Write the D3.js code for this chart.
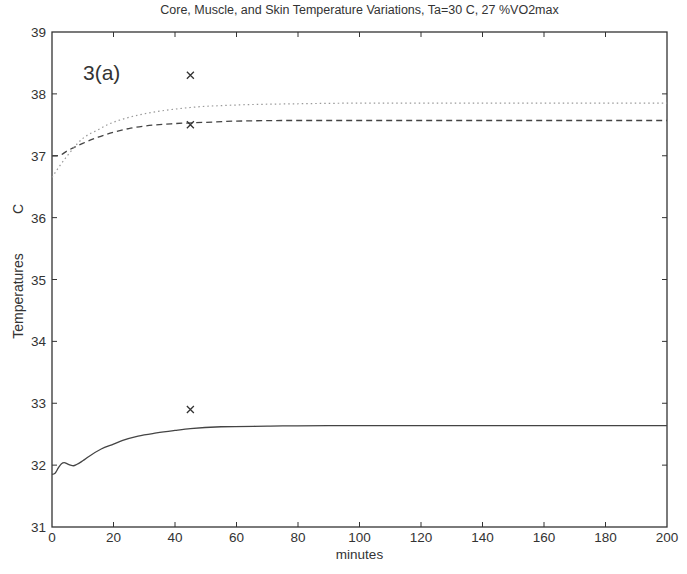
<!DOCTYPE html>
<html><head><meta charset="utf-8">
<script src="https://cdn.jsdelivr.net/npm/d3@7"></script>
<style>body{margin:0;background:#fff}svg{display:block}text{font-family:"Liberation Sans",Arial,sans-serif;fill:#333}</style>
</head><body><div id="chart"></div>
<script>
const title = "Core, Muscle, and Skin Temperature Variations, Ta=30 C, 27 %VO2max";
const xTicks = [0,20,40,60,80,100,120,140,160,180,200];
const yTicks = [31,32,33,34,35,36,37,38,39];
const coreT = [0,2,5,10,15,20,25,30,40,50,60,80,100,150,200];
const coreV = [37.0,37.0,37.08,37.2,37.3,37.38,37.44,37.48,37.52,37.54,37.56,37.57,37.57,37.57,37.57];
const muscleT = [0,2,5,10,15,18,25,35,45,60,80,100,150,200];
const muscleV = [36.65,36.8,37.0,37.28,37.42,37.5,37.62,37.72,37.78,37.82,37.84,37.85,37.85,37.85];
const skinT = [0,1,2,3,4,5,6,7,8,10,12,16,20,23,28,34,40,45,55,70,90,120,160,200];
const skinV = [31.85,31.87,31.95,32.02,32.04,32.02,32.0,31.99,32.01,32.07,32.14,32.26,32.34,32.4,32.47,32.52,32.56,32.59,32.62,32.63,32.64,32.64,32.64,32.64];
const markT = [45,45,45];
const markV = [38.3,37.5,32.9];

const W=687,H=574, L=52,R=667,T=32,B=527;
const svg=d3.select("#chart").append("svg").attr("width",W).attr("height",H);
const x=d3.scaleLinear().domain([0,200]).range([L,R]);
const y=d3.scaleLinear().domain([31,39]).range([B,T]);
const ink="#333";
const tl=5;
svg.append("rect").attr("x",L).attr("y",T).attr("width",R-L).attr("height",B-T).attr("fill","none").attr("stroke",ink).attr("stroke-width",1.3);
const g=svg.append("g").attr("stroke",ink).attr("stroke-width",1);
xTicks.slice(1,-1).forEach(v=>{
  g.append("line").attr("x1",x(v)).attr("x2",x(v)).attr("y1",B).attr("y2",B-tl);
  g.append("line").attr("x1",x(v)).attr("x2",x(v)).attr("y1",T).attr("y2",T+tl);
});
yTicks.slice(1,-1).forEach(v=>{
  g.append("line").attr("y1",y(v)).attr("y2",y(v)).attr("x1",L).attr("x2",L+tl);
  g.append("line").attr("y1",y(v)).attr("y2",y(v)).attr("x1",R).attr("x2",R-tl);
});
xTicks.forEach(v=>svg.append("text").attr("x",x(v)).attr("y",B+15).attr("text-anchor","middle").attr("font-size",13.5).text(v));
yTicks.forEach(v=>svg.append("text").attr("x",L-6).attr("y",y(v)+5).attr("text-anchor","end").attr("font-size",13.5).text(v));
svg.append("text").attr("x",(L+R)/2).attr("y",14).attr("text-anchor","middle").attr("font-size",12.5).text(title);
svg.append("text").attr("x",(L+R)/2).attr("y",559).attr("text-anchor","middle").attr("font-size",13.5).text("minutes");
svg.append("text").attr("transform",`translate(23,296) rotate(-90)`).attr("text-anchor","middle").attr("font-size",14).text("Temperatures");
svg.append("text").attr("transform",`translate(23,209) rotate(-90)`).attr("text-anchor","middle").attr("font-size",14).text("C");
svg.append("text").attr("x",83).attr("y",80).attr("font-size",21).text("3(a)");
const line=d3.line().x(d=>x(d[0])).y(d=>y(d[1])).curve(d3.curveMonotoneX);
const zip=(a,b)=>a.map((v,i)=>[v,b[i]]);
svg.append("path").datum(zip(skinT,skinV)).attr("d",line).attr("fill","none").attr("stroke","#444").attr("stroke-width",1.3);
svg.append("path").datum(zip(coreT,coreV)).attr("d",line).attr("fill","none").attr("stroke","#444").attr("stroke-width",1.3).attr("stroke-dasharray","6,4");
svg.append("path").datum(zip(muscleT,muscleV)).attr("d",line).attr("fill","none").attr("stroke","#999").attr("stroke-width",1.2).attr("stroke-dasharray","1.5,3");
const s=3.5;
markT.forEach((t,i)=>{
  const cx=x(t),cy=y(markV[i]);
  svg.append("path").attr("d",`M${cx-s},${cy-s}L${cx+s},${cy+s}M${cx-s},${cy+s}L${cx+s},${cy-s}`).attr("stroke","#333").attr("stroke-width",1.3);
});
</script></body></html>
